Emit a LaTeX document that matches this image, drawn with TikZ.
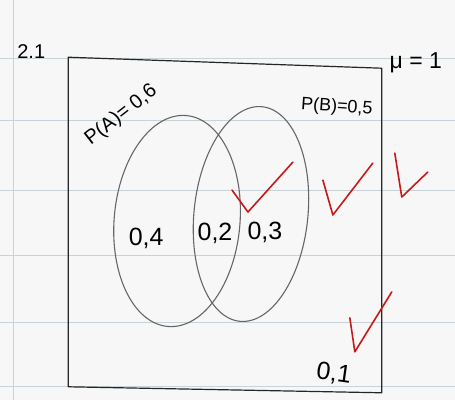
\documentclass[tikz,border=0pt]{standalone}
\usepackage{fontspec}
\setmainfont{Liberation Sans}
\usepackage{tikz}
\usetikzlibrary{shapes.geometric}

\begin{document}
\begin{tikzpicture}[
    x=1pt, y=-1pt,
    paper/.style={fill=black!3},
    rule/.style={draw=cyan!30!black!25, line width=0.6pt},
    frame/.style={draw=black!85, line width=1.2pt, line join=round},
    set/.style={
        draw=black!60,
        ellipse,
        line width=1.1pt,
        inner sep=0pt
    },
    hand/.style={font=\fontsize{20}{24}\selectfont, inner sep=1pt},
    region/.style={hand, font=\fontsize{25}{30}\selectfont},
    tick/.style={draw=red!75!black!90, line width=1.6pt, line cap=round, line join=round}
]
    %% paper
    \fill[paper] (0,0) rectangle (455,400);
    \foreach \ly in {58,120,190,255,322,387}
        \draw[rule] (0,\ly) -- (455,\ly);
    \draw[rule] (13,0) -- (13,400);

    %% universe
    \draw[frame] (68,57) -- (382,68) -- (382,393) -- (68,387) -- cycle;
    \node[hand] (title) at (31,51) {2.1};
    \node[hand, font=\fontsize{23}{28}\selectfont] (univ) at (416,63) {μ = 1};

    %% sets
    \node[set, minimum width=126pt, minimum height=212pt, rotate=-5] (setA) at (177,221) {};
    \node[set, minimum width=114pt, minimum height=216pt, rotate=-6] (setB) at (251,214) {};
    \node[hand, rotate=38] (probA) at (121,115) {P(A)= 0,6};
    \node[hand, font=\fontsize{18}{22}\selectfont, rotate=-4] (probB) at (337,107) {P(B)=0,5};

    %% regions
    \node[region] (onlyA) at (146,238) {0,4};
    \node[region] (both) at (215,233) {0,2};
    \node[region] (onlyB) at (265,232) {0,3};
    \node[region, rotate=-8] (none) at (334,374) {0,1};

    %% checks
    \draw[tick] (232,190) -- (248,212) -- (293,162);
    \draw[tick] (323,180) -- (333,215) -- (373,163);
    \draw[tick] (395,153) -- (402,197) -- (428,172);
    \draw[tick] (350,318) -- (355,352) -- (392,292);
\end{tikzpicture}
\end{document}
